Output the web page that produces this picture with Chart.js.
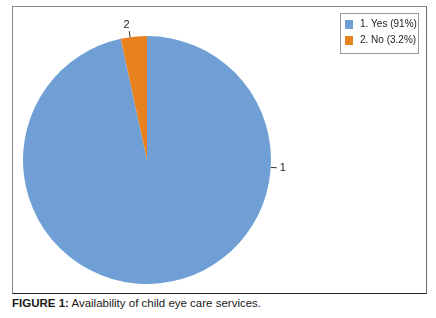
<!DOCTYPE html>
<html>
<head>
<meta charset="utf-8">
<script src="https://cdn.jsdelivr.net/npm/chart.js@4/dist/chart.umd.min.js"></script>
<style>
  body { margin: 0; background: #fff; width: 436px; height: 318px; position: relative; overflow: hidden; }
  .frame {
    position: absolute; left: 12px; top: 6px; width: 413px; height: 286px;
    border-left: 1px solid #8a8a8a; border-top: 1px solid #8a8a8a;
    border-right: 1px solid #6a6a6a; border-bottom: 1px solid #222;
  }
  .caption {
    position: absolute; left: 12px; top: 297px;
    font-family: "Liberation Sans", Arial, sans-serif; font-size: 11.5px; color: #1a1a1a;
  }
</style>
</head>
<body>
<div class="frame"><canvas id="chartEye" width="413" height="286"></canvas></div>
<div class="caption"><b>FIGURE 1:</b> Availability of child eye care services.</div>
<script>
const categories = ["1. Yes (91%)", "2. No (3.2%)"];
const sliceNames = ["1", "2"];
const values = [91, 3.2];
const colours = ["#6f9fd5", "#e8821f"];

// data labels with short leader lines
const labelPlugin = {
  id: "labelPlugin",
  afterDatasetsDraw(chart) {
    const ctx = chart.ctx;
    const arcs = chart.getDatasetMeta(0).data;
    ctx.save();
    ctx.font = "11px 'Liberation Sans', Arial, sans-serif";
    ctx.fillStyle = "#222";
    ctx.strokeStyle = "#333";
    ctx.lineWidth = 1;
    ctx.textAlign = "center";
    ctx.textBaseline = "middle";
    arcs.forEach((arc, i) => {
      const { x, y, outerRadius, startAngle, endAngle } = arc.getProps(["x", "y", "outerRadius", "startAngle", "endAngle"], true);
      // the big slice's label sits at the right side like the original
      const a = i === 0 ? 0.06 : (startAngle + endAngle) / 2 - 0.03;
      const x1 = x + Math.cos(a) * outerRadius, y1 = y + Math.sin(a) * outerRadius;
      const x2 = x + Math.cos(a) * (outerRadius + 6), y2 = y + Math.sin(a) * (outerRadius + 6);
      ctx.beginPath();
      ctx.moveTo(x1, y1);
      ctx.lineTo(x2, y2);
      ctx.stroke();
      const lx = x + Math.cos(a) * (outerRadius + 12), ly = y + Math.sin(a) * (outerRadius + 12);
      ctx.fillText(sliceNames[i], lx - (i === 1 ? 2 : 0), ly);
    });
    ctx.restore();
  }
};

// boxed legend in the top right corner
const boxLegend = {
  id: "boxLegend",
  afterDraw(chart) {
    const ctx = chart.ctx;
    const bx = 327, by = 6, bw = 78, bh = 40;
    ctx.save();
    ctx.strokeStyle = "#999";
    ctx.lineWidth = 1;
    ctx.strokeRect(bx + 0.5, by + 0.5, bw, bh);
    ctx.font = "10px 'Liberation Sans', Arial, sans-serif";
    ctx.textBaseline = "middle";
    ctx.fillStyle = "#222";
    categories.forEach((c, i) => {
      const cy = by + 11 + i * 16;
      ctx.fillStyle = colours[i];
      ctx.fillRect(bx + 5, cy - 4, 8, 9);
      ctx.fillStyle = "#222";
      ctx.fillText(c, bx + 20, cy);
    });
    ctx.restore();
  }
};

const chartEye = new Chart(document.getElementById("chartEye"), {
  type: "pie",
  data: {
    labels: categories,
    datasets: [{
      data: values,
      backgroundColor: colours,
      borderWidth: 0,
    }],
  },
  options: {
    responsive: false,
    animation: false,
    layout: { padding: { left: 10, right: 155, top: 29, bottom: 9 } },
    plugins: {
      legend: { display: false },
      tooltip: { enabled: false },
    },
  },
  plugins: [labelPlugin, boxLegend],
});
</script>
</body>
</html>
